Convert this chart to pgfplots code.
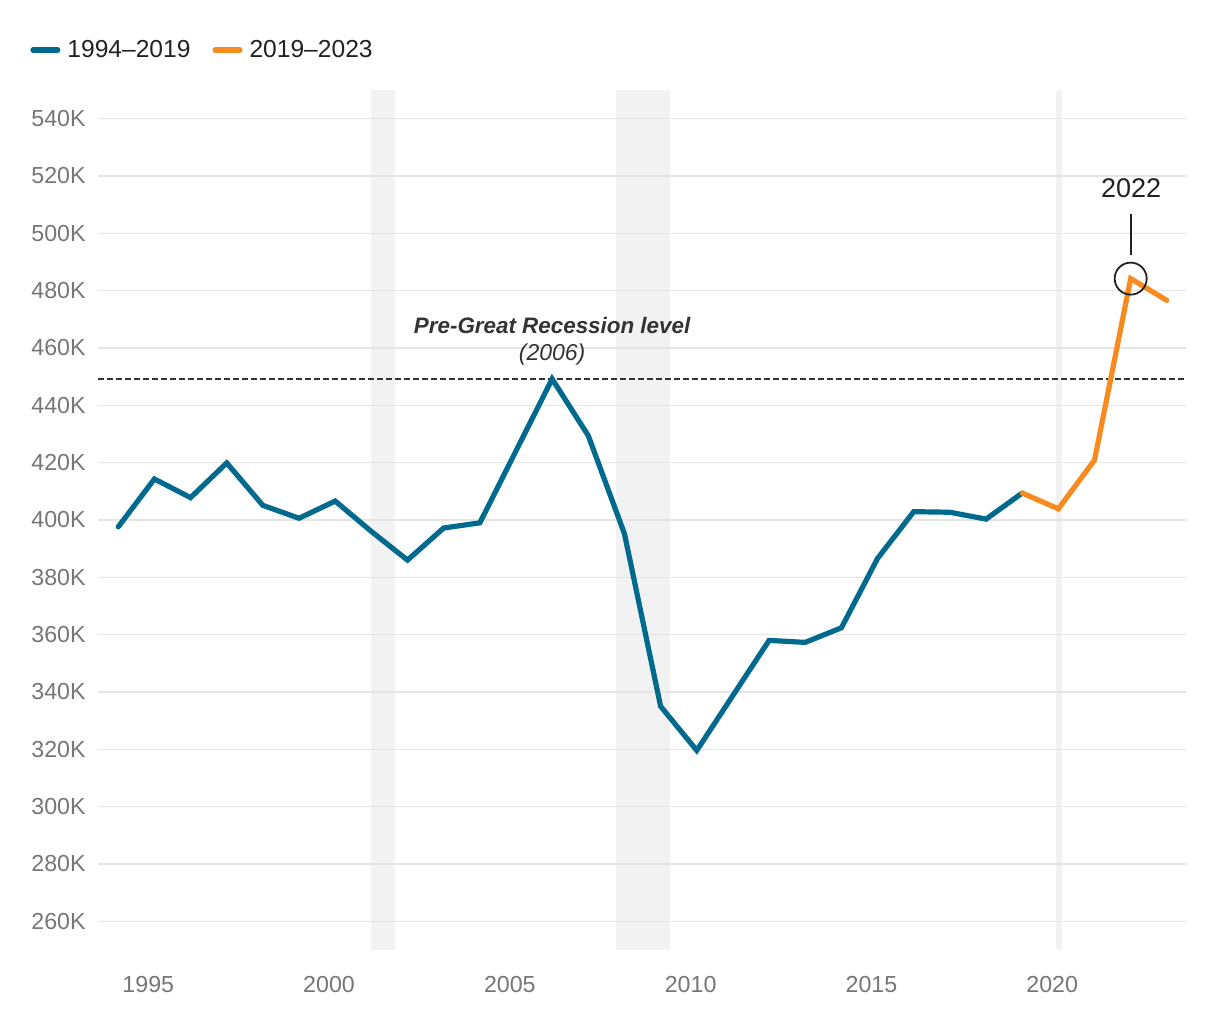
\documentclass[border=0pt]{standalone}
\usepackage{pgfplots}
\pgfplotsset{compat=1.18}
\usepackage{fontspec}
\setmainfont{Liberation Sans}
\definecolor{lineblue}{HTML}{006A8E}
\definecolor{lineorange}{HTML}{F78B1F}
\definecolor{gridgray}{HTML}{E5E5E5}
\definecolor{bandgray}{HTML}{F2F2F2}
\definecolor{ticklab}{HTML}{767676}
\definecolor{darktext}{HTML}{222222}
\definecolor{annot}{HTML}{333333}
\begin{document}
\begin{tikzpicture}
\begin{axis}[
  set layers=standard,
  scale only axis, width=544pt, height=430pt,
  xmin=1993.61, xmax=2023.70, ymin=250, ymax=550,
  axis line style={draw=none},
  major tick style={draw=none},
  ymajorgrids, grid style={gridgray, line width=0.8pt},
  xtick={1995,2000,2005,2010,2015,2020},
  xticklabels={1995,2000,2005,2010,2015,2020},
  ytick={260,280,300,320,340,360,380,400,420,440,460,480,500,520,540},
  yticklabels={260K,280K,300K,320K,340K,360K,380K,400K,420K,440K,460K,480K,500K,520K,540K},
  tick label style={font=\fontsize{11.6}{13}\selectfont, text=ticklab},
  yticklabel style={anchor=east, inner sep=0pt, xshift=-6pt},
  xticklabel style={anchor=north, inner sep=0pt, yshift=-13pt},
  legend columns=2,
  legend style={at={(-0.0625,1.0465)}, anchor=west, draw=none, fill=none, inner sep=0pt,
    font=\fontsize{12.3}{14}\selectfont, text=darktext, nodes={inner sep=1.5pt},
    /tikz/every odd column/.append style={column sep=2pt},
    /tikz/every even column/.append style={column sep=9.5pt}},
  legend image code/.code={%
    \draw[#1, line width=2.6pt, line cap=round] (1.3pt,0pt) -- (13.7pt,0pt);},
]
% recession bands
\begin{pgfonlayer}{axis background}
\fill[bandgray] (axis cs:2001.17,250) rectangle (axis cs:2001.83,550);
\fill[bandgray] (axis cs:2007.94,250) rectangle (axis cs:2009.43,550);
\fill[bandgray] (axis cs:2020.10,250) rectangle (axis cs:2020.27,550);
\end{pgfonlayer}
% pre-recession level
\addplot[forget plot, color=annot, line width=0.75pt, dash pattern=on 3pt off 1.5pt]
  coordinates {(1993.61,449.2) (2023.70,449.2)};
% series
\addplot[lineblue, line width=2.6pt, line cap=round] coordinates {
(1994.17,397.6) (1995.17,414.3) (1996.17,407.8) (1997.17,419.9) (1998.17,405.1)
(1999.17,400.6) (2000.17,406.6) (2001.17,396.0) (2002.17,386.0) (2003.17,397.2)
(2004.17,399.0) (2005.17,424.1) (2006.17,449.2) (2007.17,429.4) (2008.17,395.2)
(2009.17,335.0) (2010.17,319.6) (2011.17,338.8) (2012.17,358.0) (2013.17,357.3)
(2014.17,362.4) (2015.17,386.6) (2016.17,402.9) (2017.17,402.7) (2018.17,400.3)
(2019.17,409.4)};
\addlegendentry{1994--2019}
\addplot[lineorange, line width=2.6pt, line cap=round] coordinates {
(2019.17,409.4) (2020.17,403.9) (2021.17,420.9) (2022.17,484.2) (2023.17,476.6)};
\addlegendentry{2019--2023}
% 2022 highlight
\addplot[forget plot, only marks, mark=o, mark size=8pt, mark options={draw=darktext, line width=0.9pt}]
  coordinates {(2022.17,484.2)};
\addplot[forget plot, darktext, line width=0.9pt] coordinates {(2022.17,492.3) (2022.17,506.8)};
\node[font=\fontsize{13.5}{15}\selectfont, text=darktext] at (axis cs:2022.18,515.6) {2022};
\node[font=\fontsize{11.2}{13}\selectfont\bfseries\itshape, text=annot] at (axis cs:2006.17,467.7) {Pre-Great Recession level};
\node[font=\fontsize{11.5}{13}\selectfont\itshape, text=annot] at (axis cs:2006.17,457.6) {(2006)};
\end{axis}
\pgfresetboundingbox
\path[use as bounding box] (-49pt,-35pt) rectangle (561pt,475pt);
\end{tikzpicture}
\end{document}
